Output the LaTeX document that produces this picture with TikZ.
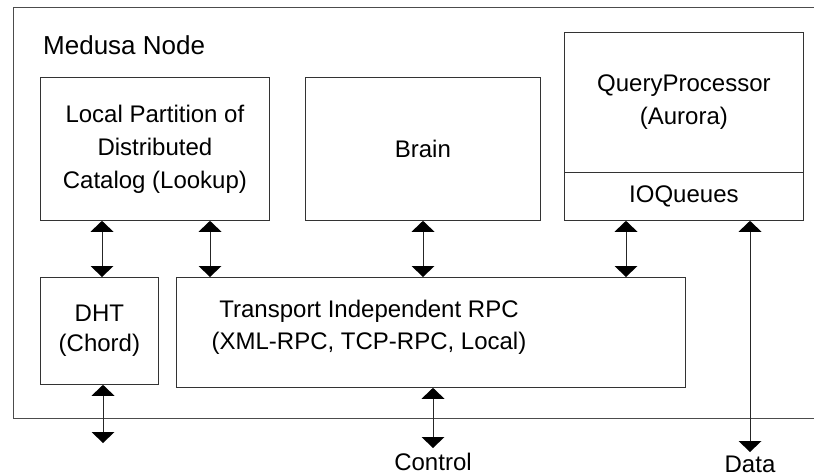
\documentclass[tikz,border=0pt]{standalone}
\usepackage{fontspec}
\setmainfont{Liberation Sans}
\usetikzlibrary{arrows.meta}
\begin{document}
\begin{tikzpicture}[x=1pt,y=-1pt,
  box/.style={draw=black!80, line width=0.8pt, inner sep=0pt, anchor=north west,
    font=\fontsize{24}{33}\selectfont, align=center},
  biarrow/.style={draw=black!85, line width=0.8pt,
    {Triangle[width=23pt,length=11pt,fill=black,line width=0pt]}-{Triangle[width=23pt,length=11pt,fill=black,line width=0pt]}},
  lbl/.style={font=\fontsize{24}{33}\selectfont, align=center, inner sep=0pt}]
\clip (0,0) rectangle (814,476);
\fill[white] (0,0) rectangle (814,476);
% outer Medusa node
\node[draw=black!70, line width=1pt, inner sep=0pt, anchor=north west,
  minimum width=830pt, minimum height=411pt] (outer) at (13,7) {};
\node[lbl, font=\fontsize{26}{30}\selectfont, anchor=base west] (title) at (43,55) {Medusa Node};
% boxes
\node[box, minimum width=229pt, minimum height=143pt] (lookup) at (40,77)
  {Local Partition of\\Distributed\\Catalog (Lookup)};
\node[box, minimum width=235pt, minimum height=143pt] (brain) at (305,77) {Brain};
\node[box, minimum width=239pt, minimum height=140pt] (qp) at (564,32)
  {QueryProcessor\\(Aurora)};
\node[box, minimum width=239pt, minimum height=48pt] (io) at (564,172) {IOQueues};
\node[box, minimum width=118pt, minimum height=107pt, font=\fontsize{24}{30}\selectfont] (dht) at (40,277)
  {DHT\\(Chord)};
\node[box, minimum width=509pt, minimum height=110pt] (rpc) at (176,277) {};
\node[lbl, font=\fontsize{24}{32}\selectfont] (rpctext) at (369,327)
  {Transport Independent RPC\\(XML-RPC, TCP-RPC, Local)};
% free ends
\coordinate (dhtout) at (103,443);
\coordinate (ctrl) at (433,448);
\coordinate (data) at (750,452);
\node[lbl, anchor=base] (ctrllbl) at (433,470) {Control};
\node[lbl, anchor=base] (datalbl) at (750,472) {Data};
% connectors
\draw[biarrow] ([xshift=62pt]lookup.south west) -- ([xshift=62pt]lookup.south west |- dht.north);
\draw[biarrow] ([xshift=170pt]lookup.south west) -- ([xshift=170pt]lookup.south west |- rpc.north);
\draw[biarrow] ([xshift=118pt]brain.south west) -- ([xshift=118pt]brain.south west |- rpc.north);
\draw[biarrow] ([xshift=62pt]io.south west) -- ([xshift=62pt]io.south west |- rpc.north);
\draw[biarrow] ([xshift=186pt]io.south west) -- (data);
\draw[biarrow] (dht.south -| dhtout) -- (dhtout);
\draw[biarrow] (rpc.south -| ctrl) -- (ctrl);
\end{tikzpicture}
\end{document}
